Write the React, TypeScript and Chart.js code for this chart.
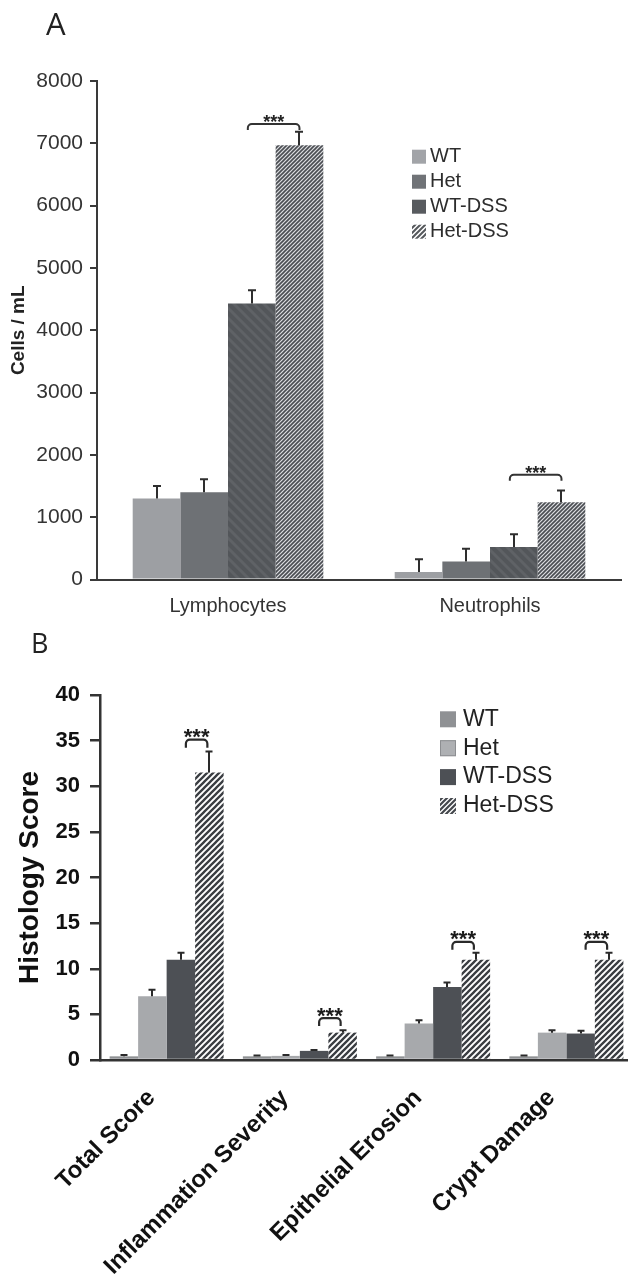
import React, { useEffect, useRef } from 'react';
import { Chart, registerables } from 'chart.js';

Chart.register(...registerables);

// ---------- Panel A data ----------
const seriesNames = ['WT', 'Het', 'WT-DSS', 'Het-DSS'];
const categoriesA = ['Lymphocytes', 'Neutrophils'];
const wtA = [1300, 120];
const hetA = [1400, 290];
const wtDssA = [4430, 520];
const hetDssA = [6970, 1240];
const wtErrA = [200, 205];
const hetErrA = [210, 205];
const wtDssErrA = [210, 205];
const hetDssErrA = [215, 190];
const bracketA = [7310, 1680];
const yTicksA = [0, 1000, 2000, 3000, 4000, 5000, 6000, 7000, 8000];

// ---------- Panel B data ----------
const categoriesB = ['Total Score', 'Inflammation Severity', 'Epithelial Erosion', 'Crypt Damage'];
const wtB = [0.4, 0.4, 0.4, 0.4];
const hetB = [7.0, 0.45, 4.0, 3.0];
const wtDssB = [11.0, 1.0, 8.0, 2.9];
const hetDssB = [31.5, 3.0, 11.0, 11.0];
const wtErrB = [0.15, 0.1, 0.1, 0.1];
const hetErrB = [0.7, 0.1, 0.35, 0.25];
const wtDssErrB = [0.75, 0.1, 0.5, 0.3];
const hetDssErrB = [2.3, 0.25, 0.75, 0.75];
const bracketB = [35.1, 4.6, 12.95, 12.95];
const yTicksB = [0, 5, 10, 15, 20, 25, 30, 35, 40];

const FONT = "'Liberation Sans', Arial, Helvetica, sans-serif";

function stripes(n: number, lw: number, fg: string, bg: string | null, dir: 1 | -1): CanvasPattern {
  const c = document.createElement('canvas');
  c.width = n;
  c.height = n;
  const g = c.getContext('2d')!;
  if (bg) {
    g.fillStyle = bg;
    g.fillRect(0, 0, n, n);
  }
  g.strokeStyle = fg;
  g.lineWidth = lw;
  g.beginPath();
  if (dir === 1) {
    for (const cc of [0, n, 2 * n]) {
      g.moveTo(cc - n - 2, n + 2);
      g.lineTo(cc + 2, -2);
    }
  } else {
    for (const cc of [-n, 0, n]) {
      g.moveTo(cc - 2, -2);
      g.lineTo(cc + n + 2, n + 2);
    }
  }
  g.stroke();
  return g.createPattern(c, 'repeat')!;
}

function makeOverlay(o: any) {
  return {
    id: 'overlay',
    afterDatasetsDraw(chart: any) {
      const ctx = chart.ctx as CanvasRenderingContext2D;
      const ys = chart.scales.y;
      ctx.save();
      ctx.strokeStyle = o.errColor;
      ctx.lineWidth = o.errWidth;
      o.errors.forEach((errs: number[], di: number) => {
        const meta = chart.getDatasetMeta(di);
        const vals = chart.data.datasets[di].data as number[];
        meta.data.forEach((bar: any, i: number) => {
          const top = ys.getPixelForValue(vals[i] + errs[i]);
          const x = Math.round(bar.x);
          ctx.beginPath();
          ctx.moveTo(x, bar.y);
          ctx.lineTo(x, top);
          ctx.moveTo(x - o.capWidth / 2, top);
          ctx.lineTo(x + o.capWidth / 2, top);
          ctx.stroke();
        });
      });
      const mL = chart.getDatasetMeta(2);
      const mR = chart.getDatasetMeta(3);
      ctx.lineWidth = o.bracketWidth;
      ctx.strokeStyle = o.bracketColor;
      ctx.fillStyle = o.starColor;
      ctx.font = o.starFont;
      ctx.textAlign = 'center';
      ctx.textBaseline = 'alphabetic';
      o.brackets.forEach((v: number, i: number) => {
        const xl = mL.data[i].x + o.bracketLeft;
        const xr = mR.data[i].x + o.bracketRight;
        const yb = ys.getPixelForValue(v);
        const r = o.bracketRadius;
        const d = o.bracketDrop;
        ctx.beginPath();
        ctx.moveTo(xl, yb + d);
        ctx.arcTo(xl, yb, xl + r, yb, r);
        ctx.lineTo(xr - r, yb);
        ctx.arcTo(xr, yb, xr, yb + r, r);
        ctx.lineTo(xr, yb + d);
        ctx.stroke();
        ctx.fillText('***', (xl + xr) / 2, yb - o.starGap + 0.57 * o.starSize);
      });
      ctx.restore();
    },
    afterDraw(chart: any) {
      const ctx = chart.ctx as CanvasRenderingContext2D;
      const L = o.legend;
      ctx.save();
      chart.data.datasets.forEach((ds: any, i: number) => {
        const cy = L.y + i * L.dy;
        ctx.fillStyle = L.fills[i];
        ctx.fillRect(L.x, cy - L.box / 2, L.box, L.box);
        if (L.borders && L.borders[i]) {
          ctx.strokeStyle = L.borders[i];
          ctx.lineWidth = 1;
          ctx.strokeRect(L.x + 0.5, cy - L.box / 2 + 0.5, L.box - 1, L.box - 1);
        }
        ctx.fillStyle = L.color;
        ctx.font = L.font;
        ctx.textAlign = 'left';
        ctx.textBaseline = 'middle';
        ctx.fillText(ds.label, L.textX, cy);
      });
      const P = o.panel;
      ctx.fillStyle = '#222';
      ctx.font = P.font;
      ctx.textAlign = 'left';
      ctx.textBaseline = 'alphabetic';
      ctx.fillText(P.text, P.x, P.y);
      ctx.restore();
    },
  };
}

export default function App() {
  const refA = useRef<HTMLCanvasElement>(null);
  const refB = useRef<HTMLCanvasElement>(null);

  useEffect(() => {
    const wtDssTexA = stripes(10, 3, '#5f6266', '#53565a', -1);
    const hatchA = stripes(4, 1.6, '#4a4d52', '#dcdde0', 1);
    const legHatchA = stripes(5, 2, '#55585c', '#ffffff', 1);
    const hatchB = stripes(6, 2.3, '#3a3d42', '#ffffff', 1);
    const legHatchB = stripes(5, 2.2, '#45484d', '#ffffff', 1);

    const overlayA = makeOverlay({
      errors: [wtErrA, hetErrA, wtDssErrA, hetDssErrA],
      errColor: '#2e2e2e', errWidth: 2, capWidth: 8,
      brackets: bracketA, bracketLeft: -4, bracketRight: 0, bracketDrop: 6, bracketRadius: 4,
      bracketWidth: 2, bracketColor: '#333',
      starFont: `bold 18px ${FONT}`, starSize: 18, starGap: 6.5, starColor: '#222',
      legend: {
        x: 412, y: 156.7, dy: 25, box: 14, textX: 430, font: `20px ${FONT}`, color: '#2d2d2d',
        fills: ['#a2a4a8', '#707377', '#585b5f', legHatchA],
      },
      panel: { text: 'A', x: 46, y: 35, font: "31px 'Open Sans', 'Noto Sans', sans-serif" },
    });

    const overlayB = makeOverlay({
      errors: [wtErrB, hetErrB, wtDssErrB, hetDssErrB],
      errColor: '#2a2a2a', errWidth: 2, capWidth: 7,
      brackets: bracketB, bracketLeft: 5, bracketRight: -2, bracketDrop: 8, bracketRadius: 4,
      bracketWidth: 2.2, bracketColor: '#2a2a2a',
      starFont: `bold 22px ${FONT}`, starSize: 22, starGap: 8, starColor: '#1a1a1a',
      legend: {
        x: 440, y: 99.3, dy: 28.9, box: 16, textX: 463, font: `23px ${FONT}`, color: '#222',
        fills: ['#8f9194', '#aeb0b3', '#4d5055', legHatchB],
        borders: [null, '#8c8e91', null, null],
      },
      panel: { text: 'B', x: 31, y: 33, font: "27px 'Open Sans', 'Noto Sans', sans-serif" },
    });

    const chartA = new Chart(refA.current!, {
      type: 'bar',
      data: {
        labels: categoriesA,
        datasets: [
          { label: seriesNames[0], data: wtA, backgroundColor: '#9d9fa3' },
          { label: seriesNames[1], data: hetA, backgroundColor: '#6e7175' },
          { label: seriesNames[2], data: wtDssA, backgroundColor: wtDssTexA as any },
          { label: seriesNames[3], data: hetDssA, backgroundColor: hatchA as any },
        ],
      },
      options: {
        responsive: false,
        animation: false,
        devicePixelRatio: 1,
        layout: { padding: { left: 0, right: 7, top: 81, bottom: 0 } },
        datasets: { bar: { categoryPercentage: 0.7275, barPercentage: 1, borderWidth: 0 } },
        plugins: { legend: { display: false }, tooltip: { enabled: false } },
        scales: {
          x: {
            grid: { display: false, drawTicks: false },
            border: { display: true, color: '#3a3a3a', width: 2 },
            ticks: { font: { family: FONT, size: 20 }, color: '#333', padding: 15 },
            afterFit: (s: any) => { s.height = 620 - 579.5; },
          },
          y: {
            min: 0,
            max: yTicksA[yTicksA.length - 1],
            afterBuildTicks: (s: any) => { s.ticks = yTicksA.map((v) => ({ value: v })); },
            ticks: { font: { family: FONT, size: 21 }, color: '#333', padding: 7, callback: (v: any) => String(v) },
            grid: { display: true, drawOnChartArea: false, drawTicks: true, tickLength: 7, color: '#3a3a3a', lineWidth: 2 },
            border: { display: true, color: '#3a3a3a', width: 2 },
            title: {
              display: true, text: 'Cells / mL', color: '#222',
              font: { family: FONT, size: 19, weight: 'bold' }, padding: { top: 7, bottom: 0 },
            },
            afterFit: (s: any) => { s.width = 97; },
          },
        },
      } as any,
      plugins: [overlayA as any],
    });

    const chartB = new Chart(refB.current!, {
      type: 'bar',
      data: {
        labels: categoriesB,
        datasets: [
          { label: seriesNames[0], data: wtB, backgroundColor: '#8f9194' },
          { label: seriesNames[1], data: hetB, backgroundColor: '#a7a9ac' },
          { label: seriesNames[2], data: wtDssB, backgroundColor: '#4d5055' },
          { label: seriesNames[3], data: hetDssB, backgroundColor: hatchB as any },
        ],
      },
      options: {
        responsive: false,
        animation: false,
        devicePixelRatio: 1,
        layout: { padding: { left: 0, right: 7, top: 75, bottom: 0 } },
        datasets: { bar: { categoryPercentage: 0.8555, barPercentage: 1, borderWidth: 0 } },
        plugins: { legend: { display: false }, tooltip: { enabled: false } },
        scales: {
          x: {
            grid: { display: false, drawTicks: false },
            border: { display: true, color: '#333', width: 2.5 },
            ticks: {
              font: { family: FONT, size: 24, weight: 'bold' }, color: '#111',
              maxRotation: 45, minRotation: 45, padding: 24, labelOffset: -15, autoSkip: false,
            },
            afterFit: (s: any) => { s.height = 662 - 440; },
          },
          y: {
            min: 0,
            max: yTicksB[yTicksB.length - 1],
            afterBuildTicks: (s: any) => { s.ticks = yTicksB.map((v) => ({ value: v })); },
            ticks: { font: { family: FONT, size: 22, weight: 'bold' }, color: '#111', padding: 10 },
            grid: { display: true, drawOnChartArea: false, drawTicks: true, tickLength: 10, color: '#333', lineWidth: 2.5 },
            border: { display: true, color: '#333', width: 2.5 },
            title: {
              display: true, text: 'Histology Score', color: '#111',
              font: { family: FONT, size: 28, weight: 'bold' }, padding: { top: 13, bottom: 0 },
            },
            afterFit: (s: any) => { s.width = 100; },
          },
        },
      } as any,
      plugins: [overlayB as any],
    });

    return () => {
      chartA.destroy();
      chartB.destroy();
    };
  }, []);

  return (
    <div style={{ position: 'absolute', left: 0, top: 0, width: 628, height: 1282, overflow: 'hidden', background: '#fff' }}>
      <canvas ref={refA} width={628} height={620} style={{ position: 'absolute', left: 0, top: 0, width: 628, height: 620 }} />
      <canvas ref={refB} width={640} height={662} style={{ position: 'absolute', left: 0, top: 620, width: 640, height: 662 }} />
    </div>
  );
}
